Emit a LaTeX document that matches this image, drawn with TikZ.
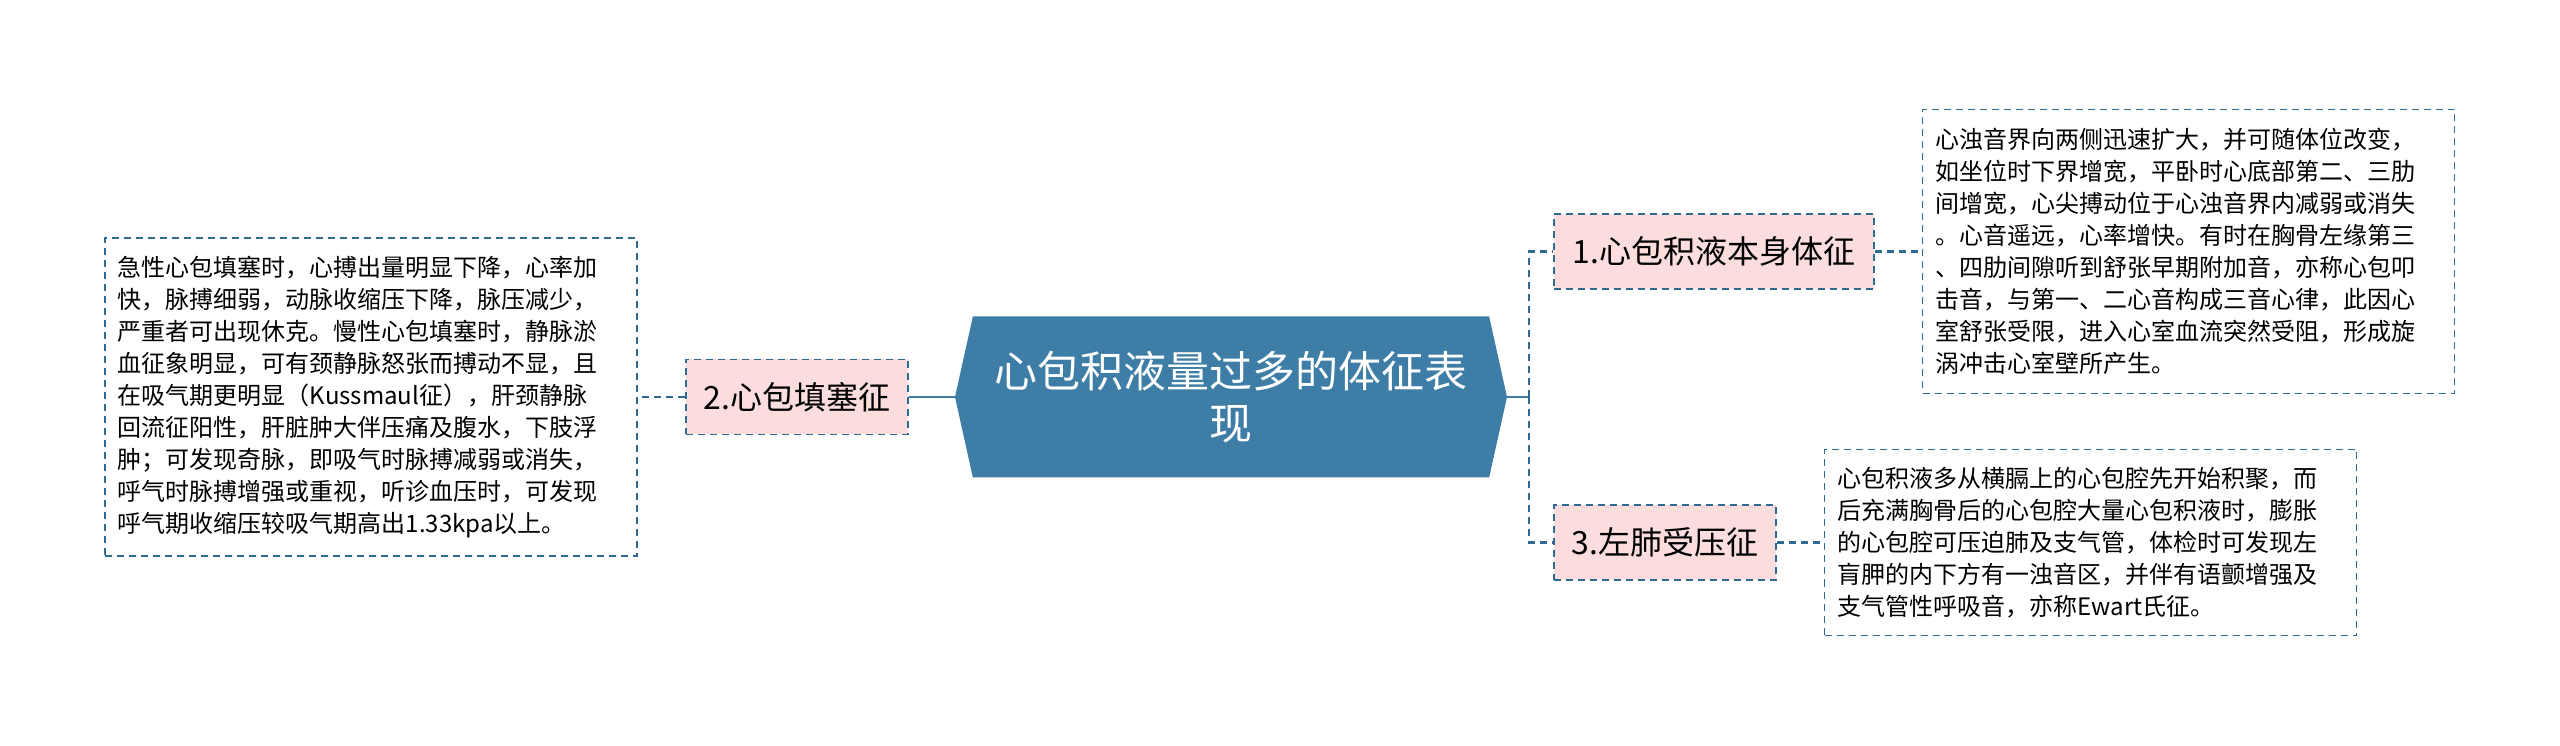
\documentclass[tikz,border=0pt]{standalone}
\usepackage{fontspec}
\setmainfont{Noto Sans CJK SC}
\usetikzlibrary{positioning,shapes.symbols}
\definecolor{hexblue}{RGB}{62,126,166}
\definecolor{lineblue}{RGB}{46,106,146}
\definecolor{subpink}{RGB}{252,221,221}

\begin{document}
\begin{tikzpicture}[
  x=0.5pt, y=0.5pt, node distance=23pt,
  root/.style={shape=signal, signal to=east and west, signal pointer angle=155, fill=hexblue, text=white, minimum width=276pt, minimum height=80.5pt, inner sep=0pt, align=center, font=\fontsize{21.5}{26}\selectfont},
  topic/.style={draw=lineblue, dash pattern=on 3.5pt off 2.5pt, line width=0.9pt, fill=subpink, minimum height=37.5pt, inner sep=0pt, font=\fontsize{16}{20}\selectfont},
  note/.style={draw=lineblue, dash pattern=on 3.5pt off 2.5pt, line width=0.8pt, fill=white, text width=253pt, align=left, inner xsep=6.5pt, inner ysep=0pt, font=\fontsize{12}{16}\selectfont},
  trunk/.style={draw=hexblue, line width=1.4pt},
  twig/.style={draw=lineblue, line width=1.2pt, dash pattern=on 3.5pt off 2.5pt}
]
  \useasboundingbox (0,0) rectangle (2560,745);

  \node[root] (root) at (1231,348) {心包积液量过多的体征表\\现};

  % left branch
  \node[topic, minimum width=111pt, left=of root] (sign2) {2.心包填塞征};
  \node[note, minimum height=159pt, left=23.5pt of sign2] (note2) {急性心包填塞时，心搏出量明显下降，心率加\\
快，脉搏细弱，动脉收缩压下降，脉压减少，\\
严重者可出现休克。慢性心包填塞时，静脉淤\\
血征象明显，可有颈静脉怒张而搏动不显，且\\
在吸气期更明显（Kussmaul征），肝颈静脉\\
回流征阳性，肝脏肿大伴压痛及腹水，下肢浮\\
肿；可发现奇脉，即吸气时脉搏减弱或消失，\\
呼气时脉搏增强或重视，听诊血压时，可发现\\
呼气期收缩压较吸气期高出1.33kpa以上。};

  % right branches
  \node[topic, minimum width=160pt, anchor=west] (sign1) at (1553,493.5) {1.心包积液本身体征};
  \node[note, minimum height=142pt, right=23.5pt of sign1] (note1) {心浊音界向两侧迅速扩大，并可随体位改变，\\
如坐位时下界增宽，平卧时心底部第二、三肋\\
间增宽，心尖搏动位于心浊音界内减弱或消失\\
。心音遥远，心率增快。有时在胸骨左缘第三\\
、四肋间隙听到舒张早期附加音，亦称心包叩\\
击音，与第一、二心音构成三音心律，此因心\\
室舒张受限，进入心室血流突然受阻，形成旋\\
涡冲击心室壁所产生。};

  \node[topic, minimum width=111pt, anchor=west] (sign3) at (1553,202.5) {3.左肺受压征};
  \node[note, minimum height=93pt, right=23.5pt of sign3] (note3) {心包积液多从横膈上的心包腔先开始积聚，而\\
后充满胸骨后的心包腔大量心包积液时，膨胀\\
的心包腔可压迫肺及支气管，体检时可发现左\\
肓胛的内下方有一浊音区，并伴有语颤增强及\\
支气管性呼吸音，亦称Ewart氏征。};

  % connectors
  \coordinate (fork) at (1529,348);
  \draw[trunk] (root.west) -- (sign2.east);
  \draw[twig] (sign2.west) -- (note2.east);
  \draw[trunk] (root.east) -- (fork);
  \draw[twig] (fork) |- (sign1.west);
  \draw[twig] (fork) |- (sign3.west);
  \draw[twig] (sign1.east) -- (note1.west);
  \draw[twig] (sign3.east) -- (note3.west);
\end{tikzpicture}
\end{document}
